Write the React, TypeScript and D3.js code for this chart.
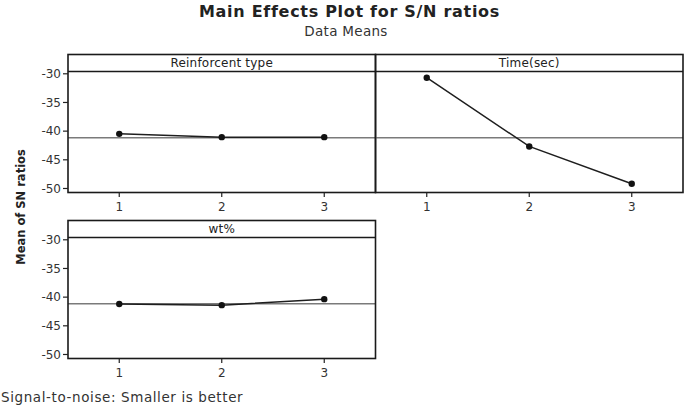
import React from "react";
import * as d3 from "d3";

const levels = [1, 2, 3];
const factors = ["Reinforcent type", "Time(sec)", "wt%"];
const reinforcentValues = [-40.47, -41.05, -41.05];
const timeValues = [-30.68, -42.67, -49.18];
const wtValues = [-41.2, -41.4, -40.35];
const grandMean = -41.15;
const yTicks = [-30, -35, -40, -45, -50];
const title = "Main Effects Plot for S/N ratios";
const subtitle = "Data Means";
const yLabel = "Mean of SN ratios";
const footer = "Signal-to-noise: Smaller is better";

const W = 685;
const H = 406;
const colX = [68, 375.5];
const colW = 307.5;
const rowY = [54.5, 220.5];
const headerH = 17;
const plotH = 121;
const FONT = "'DejaVu Sans', Verdana, sans-serif";

const panels = [
  { name: factors[0], values: reinforcentValues, col: 0, row: 0 },
  { name: factors[1], values: timeValues, col: 1, row: 0 },
  { name: factors[2], values: wtValues, col: 0, row: 1 },
];

function Panel({ name, values, col, row }: { name: string; values: number[]; col: number; row: number }) {
  const x0 = colX[col];
  const top = rowY[row];
  const pTop = top + headerH;
  const pBot = pTop + plotH;
  const x = d3.scaleLinear().domain([0.5, 3.5]).range([x0, x0 + colW]);
  const y = d3.scaleLinear().domain([-50.7, -29.6]).range([pBot, pTop]);
  const line = d3
    .line<number>()
    .x((_, i) => x(levels[i]))
    .y((d) => y(d));
  return (
    <g>
      <line x1={x0} x2={x0 + colW} y1={y(grandMean)} y2={y(grandMean)} stroke="#7a7a7a" strokeWidth={1.3} />
      <path d={line(values) || ""} fill="none" stroke="#1e1e1e" strokeWidth={1.5} />
      {values.map((v, i) => (
        <circle key={i} cx={x(levels[i])} cy={y(v)} r={3.2} fill="#111" />
      ))}
      <rect x={x0} y={top} width={colW} height={headerH + plotH} fill="none" stroke="#1a1a1a" strokeWidth={1.6} />
      <line x1={x0} x2={x0 + colW} y1={pTop} y2={pTop} stroke="#1a1a1a" strokeWidth={1.6} />
      <text
        x={x0 + colW / 2}
        y={top + 12.5}
        textAnchor="middle"
        fontFamily={FONT}
        fontSize={12}
        letterSpacing={0.2}
        fill="#222"
      >
        {name}
      </text>
      {levels.map((l) => (
        <g key={l}>
          <line x1={x(l)} x2={x(l)} y1={pBot} y2={pBot + 4.5} stroke="#222" strokeWidth={1.2} />
          <text x={x(l)} y={pBot + 18.5} textAnchor="middle" fontFamily={FONT} fontSize={12} fill="#333">
            {l}
          </text>
        </g>
      ))}
      {col === 0 &&
        yTicks.map((t) => (
          <g key={t}>
            <line x1={x0 - 5} x2={x0} y1={y(t)} y2={y(t)} stroke="#222" strokeWidth={1.2} />
            <text x={x0 - 7} y={y(t) + 4.3} textAnchor="end" fontFamily={FONT} fontSize={12} fill="#333">
              {t}
            </text>
          </g>
        ))}
    </g>
  );
}

export default function App() {
  return (
    <svg width={W} height={H} style={{ position: "absolute", left: 0, top: 0, background: "#fff" }}>
      <rect x={0} y={0} width={W} height={H} fill="#fff" />
      <text
        x={349.5}
        y={17}
        textAnchor="middle"
        fontFamily={FONT}
        fontWeight="bold"
        fontSize={16}
        letterSpacing={0.7}
        fill="#222"
      >
        {title}
      </text>
      <text
        x={346}
        y={35.7}
        textAnchor="middle"
        fontFamily={FONT}
        fontSize={13.5}
        letterSpacing={0.3}
        fill="#333"
      >
        {subtitle}
      </text>
      <text
        transform="translate(25,207) rotate(-90)"
        textAnchor="middle"
        fontFamily={FONT}
        fontWeight="bold"
        fontSize={11.5}
        fill="#222"
      >
        {yLabel}
      </text>
      {panels.map((p) => (
        <Panel key={p.name} {...p} />
      ))}
      <text x={1} y={401.5} fontFamily={FONT} fontSize={13.5} letterSpacing={0.6} fill="#333">
        {footer}
      </text>
    </svg>
  );
}
